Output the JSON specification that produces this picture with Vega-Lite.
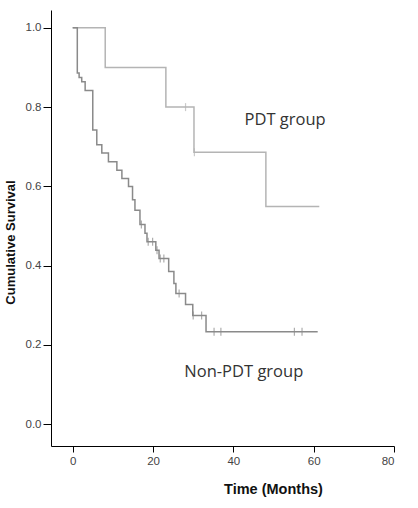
{
  "$schema": "https://vega.github.io/schema/vega-lite/v6.json",
  "autosize": {"type": "none"},
  "padding": {"left": 51, "top": 10, "right": 24, "bottom": 62},
  "width": 343,
  "height": 436,
  "background": "white",
  "config": {"view": {"stroke": null}},
  "datasets": {
    "curves": [
      {"group": "PDT", "t": 0, "s": 1.0},
      {"group": "PDT", "t": 8.1, "s": 0.9},
      {"group": "PDT", "t": 23.2, "s": 0.8},
      {"group": "PDT", "t": 30.2, "s": 0.686},
      {"group": "PDT", "t": 48.1, "s": 0.549},
      {"group": "PDT", "t": 61.4, "s": 0.549},
      {"group": "Non-PDT", "t": 0, "s": 1.0},
      {"group": "Non-PDT", "t": 1.15, "s": 0.886},
      {"group": "Non-PDT", "t": 1.6, "s": 0.875},
      {"group": "Non-PDT", "t": 2.25, "s": 0.864},
      {"group": "Non-PDT", "t": 3.1, "s": 0.842},
      {"group": "Non-PDT", "t": 5.0, "s": 0.742},
      {"group": "Non-PDT", "t": 6.0, "s": 0.705},
      {"group": "Non-PDT", "t": 7.25, "s": 0.684},
      {"group": "Non-PDT", "t": 8.9, "s": 0.662},
      {"group": "Non-PDT", "t": 11.0, "s": 0.641},
      {"group": "Non-PDT", "t": 12.25, "s": 0.62},
      {"group": "Non-PDT", "t": 13.9, "s": 0.6},
      {"group": "Non-PDT", "t": 14.9, "s": 0.566},
      {"group": "Non-PDT", "t": 15.5, "s": 0.54},
      {"group": "Non-PDT", "t": 16.75, "s": 0.504},
      {"group": "Non-PDT", "t": 18.0, "s": 0.482},
      {"group": "Non-PDT", "t": 18.5, "s": 0.46},
      {"group": "Non-PDT", "t": 20.7, "s": 0.439},
      {"group": "Non-PDT", "t": 21.5, "s": 0.418},
      {"group": "Non-PDT", "t": 23.9, "s": 0.385},
      {"group": "Non-PDT", "t": 25.2, "s": 0.355},
      {"group": "Non-PDT", "t": 25.7, "s": 0.33},
      {"group": "Non-PDT", "t": 28.1, "s": 0.302},
      {"group": "Non-PDT", "t": 29.9, "s": 0.274},
      {"group": "Non-PDT", "t": 33.2, "s": 0.233},
      {"group": "Non-PDT", "t": 61.0, "s": 0.233}
    ],
    "censored": [
      {"group": "PDT", "t": 28.1, "s": 0.8},
      {"group": "PDT", "t": 30.3, "s": 0.686},
      {"group": "Non-PDT", "t": 17.1, "s": 0.504},
      {"group": "Non-PDT", "t": 18.8, "s": 0.46},
      {"group": "Non-PDT", "t": 19.9, "s": 0.46},
      {"group": "Non-PDT", "t": 21.0, "s": 0.439},
      {"group": "Non-PDT", "t": 21.8, "s": 0.418},
      {"group": "Non-PDT", "t": 22.7, "s": 0.418},
      {"group": "Non-PDT", "t": 26.5, "s": 0.33},
      {"group": "Non-PDT", "t": 30.0, "s": 0.274},
      {"group": "Non-PDT", "t": 32.1, "s": 0.274},
      {"group": "Non-PDT", "t": 35.2, "s": 0.233},
      {"group": "Non-PDT", "t": 36.9, "s": 0.233},
      {"group": "Non-PDT", "t": 55.2, "s": 0.233},
      {"group": "Non-PDT", "t": 57.1, "s": 0.233}
    ],
    "labels": [
      {"label": "PDT group", "t": 52.9, "s": 0.767},
      {"label": "Non-PDT group", "t": 42.6, "s": 0.132}
    ]
  },
  "layer": [
    {
      "data": {"name": "curves"},
      "mark": {"type": "line", "interpolate": "step-after", "strokeWidth": 1.5},
      "encoding": {
        "x": {
          "field": "t", "type": "quantitative",
          "scale": {"domain": [-5.4, 80], "nice": false, "zero": false},
          "axis": {
            "title": "Time (Months)", "values": [0, 20, 40, 60, 80], "grid": false,
            "domainColor": "#000", "tickColor": "#000", "tickSize": 6,
            "labelColor": "#444", "labelFont": "Liberation Sans", "labelFontSize": 11.5, "labelPadding": 3,
            "titleFont": "Liberation Sans", "titleFontSize": 14.5, "titleFontWeight": "bold", "titleColor": "#111",
            "titleX": 222, "titleY": 43, "titleBaseline": "middle"
          }
        },
        "y": {
          "field": "s", "type": "quantitative",
          "scale": {"domain": [-0.055, 1.045], "nice": false, "zero": false},
          "axis": {
            "title": "Cumulative Survival", "values": [0, 0.2, 0.4, 0.6, 0.8, 1.0], "format": ".1f", "grid": false,
            "domainColor": "#000", "tickColor": "#000", "tickSize": 8,
            "labelColor": "#444", "labelFont": "Liberation Sans", "labelFontSize": 11.5, "labelPadding": 2,
            "titleFont": "Liberation Sans", "titleFontSize": 13, "titleFontWeight": "bold", "titleColor": "#111",
            "titleX": -41, "titleY": 232, "titleBaseline": "middle", "titleAngle": -90
          }
        },
        "color": {
          "field": "group", "type": "nominal",
          "scale": {"domain": ["PDT", "Non-PDT"], "range": ["#b4b4b4", "#8a8a8a"]},
          "legend": null
        }
      }
    },
    {
      "data": {"name": "censored"},
      "mark": {"type": "tick", "orient": "vertical", "size": 8, "thickness": 1.2},
      "encoding": {
        "x": {"field": "t", "type": "quantitative"},
        "y": {"field": "s", "type": "quantitative"},
        "color": {"field": "group", "type": "nominal", "legend": null}
      }
    },
    {
      "data": {"name": "labels"},
      "mark": {"type": "text", "font": "Open Sans", "fontSize": 16.5, "color": "#333", "align": "center", "baseline": "middle"},
      "encoding": {
        "x": {"field": "t", "type": "quantitative"},
        "y": {"field": "s", "type": "quantitative"},
        "text": {"field": "label", "type": "nominal"}
      }
    }
  ]
}
